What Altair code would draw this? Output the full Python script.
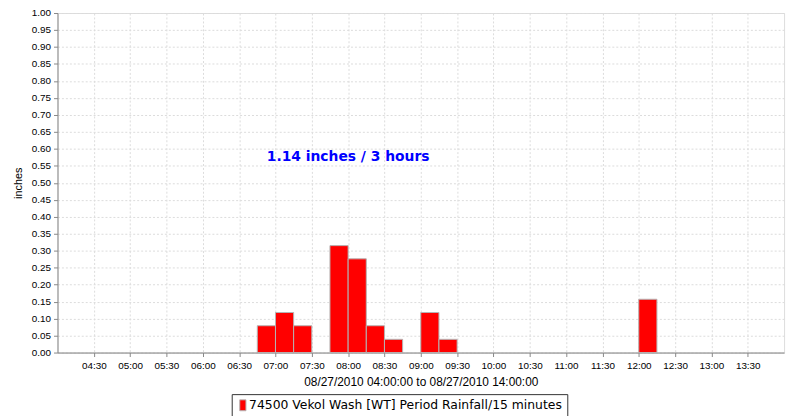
import altair as alt
import pandas as pd

# 15-minute period rainfall (inches), 08/27/2010
period_start = ["06:45", "07:00", "07:15", "07:45", "08:00", "08:15", "08:30", "09:00", "09:15", "12:00"]
period_end = ["07:00", "07:15", "07:30", "08:00", "08:15", "08:30", "08:45", "09:15", "09:30", "12:15"]
rainfall = [0.079, 0.118, 0.079, 0.315, 0.276, 0.079, 0.039, 0.118, 0.039, 0.157]
series_name = "74500 Vekol Wash [WT] Period Rainfall/15 minutes"

x_ticks = ["04:30", "05:00", "05:30", "06:00", "06:30", "07:00", "07:30", "08:00", "08:30", "09:00",
           "09:30", "10:00", "10:30", "11:00", "11:30", "12:00", "12:30", "13:00", "13:30"]
y_ticks = [0.0, 0.05, 0.1, 0.15, 0.2, 0.25, 0.3, 0.35, 0.4, 0.45, 0.5,
           0.55, 0.6, 0.65, 0.7, 0.75, 0.8, 0.85, 0.9, 0.95, 1.0]

annotation_text = ["1.14 inches / 3 hours"]
annotation_time = ["08:00"]
annotation_value = [0.576]

day = "2010-08-27T"
def ts(hm):
    return day + hm + ":00"

df = pd.DataFrame({
    "start": [ts(s) for s in period_start],
    "end": [ts(e) for e in period_end],
    "rain": rainfall,
    "series": [series_name] * len(rainfall),
})
ann = pd.DataFrame({"t": [ts(a) for a in annotation_time], "v": annotation_value, "label": annotation_text})

x_domain = [alt.DateTime(year=2010, month=8, date=27, hours=4, utc=True),
            alt.DateTime(year=2010, month=8, date=27, hours=14, utc=True)]
x_tick_vals = [alt.DateTime(year=2010, month=8, date=27, hours=int(t[:2]), minutes=int(t[3:]), utc=True)
               for t in x_ticks]

x_scale = alt.Scale(type="utc", domain=x_domain, nice=False)
y_scale = alt.Scale(domain=[0, 1], nice=False, zero=True)

FONT = "DejaVu Sans"

x_axis = alt.Axis(values=x_tick_vals, labelExpr="utcFormat(datum.value, '%H:%M')", tickCount=40,
                  title="08/27/2010 04:00:00 to 08/27/2010 14:00:00",
                  titleFontSize=12, titleFontWeight="normal", titlePadding=6,
                  labelFontSize=10, labelPadding=4, tickSize=4, grid=True,
                  gridDash=[2, 2], gridColor="#dcdcdc", labelFlush=False,
                  labelOverlap=False)
y_axis = alt.Axis(values=y_ticks, format=".2f", title="inches", tickCount=40,
                  titleFontSize=11, titleFontWeight="normal", titlePadding=8,
                  labelFontSize=10, labelPadding=3, tickSize=4, grid=True,
                  gridDash=[2, 2], gridColor="#dcdcdc", labelOverlap=False,
                  labelFlush=False)

bars = alt.Chart(df).mark_rect(stroke="#b4b4b4", strokeWidth=1).encode(
    x=alt.X("start:T", scale=x_scale, axis=x_axis),
    x2="end:T",
    y=alt.Y("rain:Q", scale=y_scale, axis=y_axis),
    color=alt.Color("series:N", scale=alt.Scale(range=["#ff0000"]),
                    legend=alt.Legend(title=None, orient="none", legendX=176, legendY=385,
                                      symbolType="M-0.57,-1H0.57V1H-0.57Z", symbolSize=121,
                                      symbolStrokeColor="#b4b4b4", symbolStrokeWidth=1,
                                      labelFontSize=12.5, labelFont=FONT, labelColor="#000000",
                                      strokeColor="#333333", padding=5, labelOffset=0,
                                      labelLimit=500)),
)

text = alt.Chart(ann).mark_text(font=FONT, fontSize=14, fontWeight="bold", color="#0000ff",
                                align="center", baseline="middle").encode(
    x=alt.X("t:T", scale=x_scale, axis=x_axis),
    y=alt.Y("v:Q", scale=y_scale, axis=y_axis),
    text="label:N",
)

chart = (bars + text).properties(
    width=734, height=343,
    autosize=alt.AutoSizeParams(type="none"),
    padding={"left": 50, "top": 3, "right": 8, "bottom": 62},
).configure_view(
    stroke="#999999", strokeWidth=1
).configure_axis(
    labelFont=FONT, titleFont=FONT, domainColor="#999999", tickColor="#999999",
    labelColor="#222222", titleColor="#222222"
).configure(background="white")

chart.save("out.html", embed_options={"renderer": "svg", "actions": False})
